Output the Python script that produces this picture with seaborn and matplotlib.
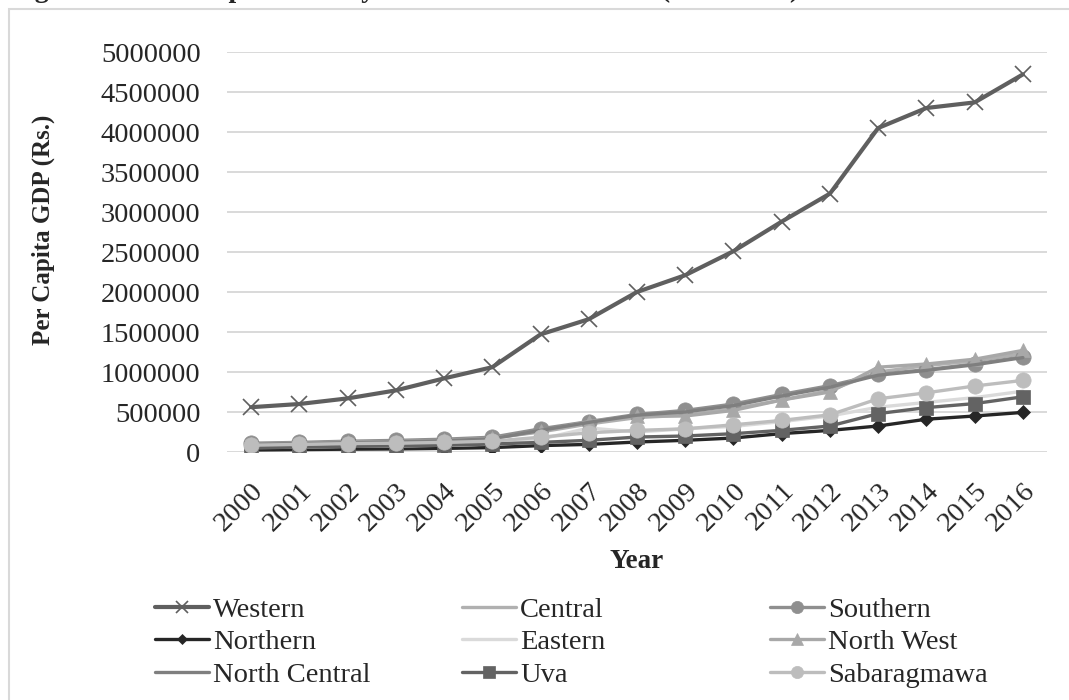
import numpy as np
import pandas as pd
import matplotlib.pyplot as plt
import matplotlib.patches as patches
import seaborn as sns

years = [2000, 2001, 2002, 2003, 2004, 2005, 2006, 2007, 2008,
         2009, 2010, 2011, 2012, 2013, 2014, 2015, 2016]

western = [560000, 600000, 670000, 770000, 920000, 1060000, 1470000, 1660000, 2000000,
           2210000, 2510000, 2880000, 3230000, 4050000, 4300000, 4370000, 4720000]
central = [100000, 110000, 125000, 135000, 150000, 175000, 250000, 350000, 430000,
           460000, 540000, 650000, 770000, 1000000, 1080000, 1140000, 1230000]
southern = [110000, 120000, 135000, 145000, 160000, 185000, 290000, 380000, 470000,
            520000, 600000, 720000, 830000, 970000, 1030000, 1100000, 1190000]
northern = [25000, 30000, 35000, 38000, 45000, 55000, 80000, 95000, 125000,
            146000, 175000, 230000, 270000, 325000, 410000, 450000, 495000]
eastern = [55000, 60000, 70000, 75000, 85000, 100000, 160000, 300000, 250000,
           290000, 320000, 380000, 450000, 560000, 620000, 680000, 760000]
north_west = [100000, 110000, 125000, 130000, 145000, 170000, 260000, 380000, 450000,
              450000, 520000, 650000, 750000, 1060000, 1100000, 1160000, 1270000]
north_central = [95000, 105000, 115000, 125000, 140000, 165000, 270000, 370000, 460000,
                 500000, 580000, 700000, 810000, 960000, 1020000, 1090000, 1180000]
uva = [55000, 60000, 70000, 75000, 85000, 100000, 120000, 146000, 187000,
       200000, 229000, 271000, 325000, 480000, 555000, 605000, 690000]
sabaragmawa = [85000, 95000, 105000, 110000, 120000, 135000, 185000, 240000, 270000,
               290000, 340000, 395000, 465000, 665000, 740000, 825000, 895000]

series = [
    ("Western", western, "#5f5f5f", "x", 11, 3.0),
    ("Central", central, "#b0b0b0", None, 0, 2.4),
    ("Southern", southern, "#8f8f8f", "o", 11, 2.4),
    ("Northern", northern, "#262626", "D", 7, 2.4),
    ("Eastern", eastern, "#dadada", None, 0, 2.4),
    ("North West", north_west, "#a8a8a8", "^", 10, 2.4),
    ("North Central", north_central, "#7f7f7f", None, 0, 2.4),
    ("Uva", uva, "#636363", "s", 10, 2.4),
    ("Sabaragmawa", sabaragmawa, "#bdbdbd", "o", 11, 2.4),
]

sns.set_style("white")
plt.rcParams['font.family'] = ['Liberation Serif', 'DejaVu Serif']

fig = plt.figure(figsize=(10.69, 7), dpi=100)
ax = fig.add_axes([227/1069, 248/700, 820/1069, 400/700])

for name, vals, col, mk, ms, lw in series:
    kw = dict(color=col, linewidth=lw)
    if mk is not None:
        kw.update(marker=mk, markersize=ms, markerfacecolor=col, markeredgecolor=col,
                  markeredgewidth=1.2 if mk == "x" else 0.5)
    sns.lineplot(x=years, y=vals, ax=ax, label=name, **kw)

ax.set_xlim(1999.5, 2016.5)
ax.set_ylim(0, 5000000)
ax.set_yticks(np.arange(0, 5000001, 500000))
ax.set_yticklabels([str(v) for v in range(0, 5000001, 500000)])
ax.set_xticks(years)
ax.set_xticklabels([str(y) for y in years], rotation=45, ha='right', rotation_mode='anchor')
ax.tick_params(axis='y', length=0, pad=19, labelsize=20.5)
ax.tick_params(axis='x', length=0, pad=19, labelsize=20.5)
ax.yaxis.grid(True, color='#d9d9d9', linewidth=1.4)
ax.xaxis.grid(False)
ax.set_axisbelow(True)
for s in ax.spines.values():
    s.set_visible(False)

ax.set_xlabel("Year", fontsize=19.5, fontweight='bold')
ax.xaxis.set_label_coords(0.5, (452 - 562) / 400)
ax.xaxis.label.set_va('center')
ax.set_ylabel("Per Capita GDP (Rs.)", fontsize=18, fontweight='bold')
ax.yaxis.set_label_coords((43 - 227) / 820, (452 - 230) / 400)
ax.yaxis.label.set_va('center')

handles, labels = ax.get_legend_handles_labels()
ax.get_legend().remove()
hmap = dict(zip(labels, handles))
columns = [["Western", "Northern", "North Central"],
           ["Central", "Eastern", "Uva"],
           ["Southern", "North West", "Sabaragmawa"]]
col_x = [155, 462, 770]
for cx, names in zip(col_x, columns):
    fig.legend([hmap[n] for n in names], names, loc='upper left',
               bbox_to_anchor=(cx/1069, (700 - 597)/700), frameon=False,
               fontsize=20.5, handlelength=1.9, handletextpad=0.15,
               labelspacing=0.23, borderpad=0, borderaxespad=0, markerscale=0.8)

fig.add_artist(patches.Rectangle((9/1069, -0.1), 1.5, 1 - 9/700 + 0.1, transform=fig.transFigure,
                                 fill=False, edgecolor='#d9d9d9', linewidth=1.5))
# caption line sits above the frame and is clipped by the top edge, as in the source
fig.text(10/1069, 1 + 3/700, "Figure 4.2: Per Capita GDP by Provinces in Sri Lanka (2000-2016)",
         fontsize=20, fontweight='bold', va='baseline')

fig.savefig("out.png", dpi=100)
